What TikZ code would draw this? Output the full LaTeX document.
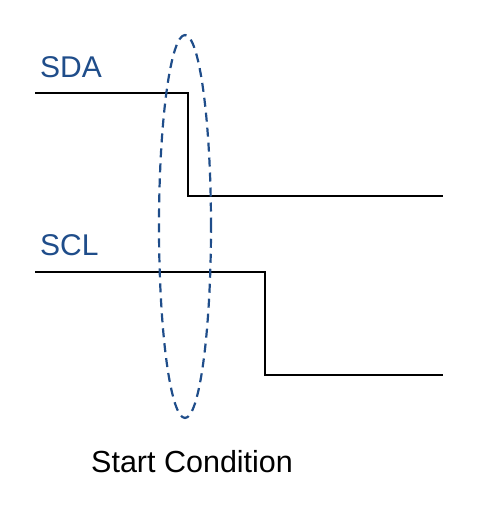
\documentclass[tikz,border=0pt]{standalone}
\usepackage{fontspec}
\setmainfont{Liberation Sans}
\usetikzlibrary{positioning,shapes.geometric}
\definecolor{busblue}{HTML}{1F4D8A}

\begin{document}
\begin{tikzpicture}[x=1pt,y=-1pt,
    signal/.style={line width=2pt,line join=miter},
    sig label/.style={font=\fontsize{30}{36}\selectfont,inner sep=0pt,anchor=base west}]
  \useasboundingbox (0,0) rectangle (500,515);
  % labels
  \node[sig label,text=busblue] (sda) at (40,77) {SDA};
  \node[sig label,text=busblue] (scl) at (40,255) {SCL};
  % SDA falls first
  \coordinate (sda_0) at (35,93);
  \coordinate (sda_1) at (188,93);
  \coordinate (sda_2) at (188,196);
  \coordinate (sda_3) at (443,196);
  \draw[signal] (sda_0) -- (sda_1) -- (sda_2) -- (sda_3);
  % then SCL
  \coordinate (scl_0) at (35,272);
  \coordinate (scl_1) at (265,272);
  \coordinate (scl_2) at (265,375);
  \coordinate (scl_3) at (443,375);
  \draw[signal] (scl_0) -- (scl_1) -- (scl_2) -- (scl_3);
  % start condition
  \node[ellipse,draw=busblue,line width=2.2pt,dash pattern=on 9pt off 6pt,
        minimum width=52pt,minimum height=383pt,inner sep=0pt] (start) at (185,226.5) {};
  \node[sig label,font=\fontsize{30.5}{36}\selectfont] (cond) at (91,472) {Start Condition};
\end{tikzpicture}
\end{document}
